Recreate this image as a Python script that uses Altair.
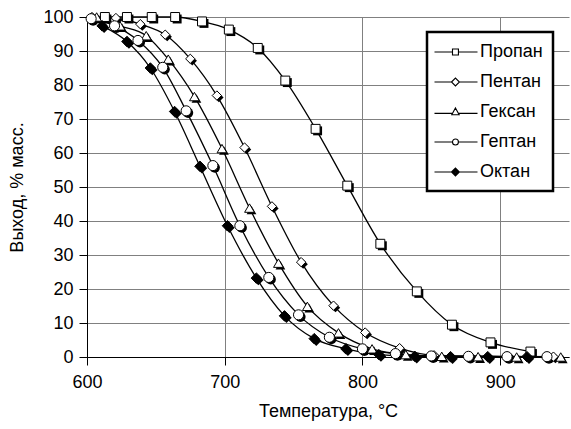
import altair as alt
import pandas as pd

series = ["Пропан", "Пентан", "Гексан", "Гептан", "Октан"]

propane_t = [613, 629, 647, 664, 683.5, 703, 724, 744, 766, 789, 813, 839.5, 865, 893, 922]
propane_y = [100, 100, 100, 100, 98.7, 96.3, 90.9, 81.3, 67.1, 50.4, 33.3, 19.3, 9.5, 4.3, 1.6]

pentane_t = [603.6, 621, 638.7, 656.8, 675, 694.3, 714.4, 734.3, 755.5, 779, 802, 827, 852, 878, 905, 938.7]
pentane_y = [100, 99.7, 97.9, 94.8, 87.7, 76.9, 61.6, 44.3, 27.9, 15.1, 7.2, 2.6, 0.5, 0.3, 0.2, 0.1]

hexane_t = [607, 624, 643, 659, 678, 698, 718, 739, 760, 782.6, 807, 831.5, 857.6, 884, 912, 944]
hexane_y = [100, 97.4, 94.5, 87.6, 76.6, 61.3, 43.8, 27.6, 14.9, 7.1, 2.4, 0.7, 0.2, 0.1, 0.0, 0.0]

heptane_t = [603, 620, 637, 655, 672, 691.4, 711, 732, 753.6, 776, 800, 824, 850, 877, 905, 934]
heptane_y = [99.5, 97.4, 93.1, 85.2, 72.4, 56.3, 38.6, 23.4, 12.4, 5.8, 2.4, 1.0, 0.3, 0.2, 0.1, 0.1]

octane_t = [611, 629, 646, 663.6, 682, 702, 723, 743.4, 765, 788, 812, 838, 864, 891, 919.5]
octane_y = [97.4, 92.8, 85.0, 72.2, 56.1, 38.6, 23.2, 12.1, 5.4, 2.4, 0.7, 0.2, 0.1, 0.1, 0.1]

x_ticks = [600, 700, 800, 900]
y_ticks = [0, 10, 20, 30, 40, 50, 60, 70, 80, 90, 100]
x_range = [600, 950]
y_range = [0, 100]

rows = []
for name, ts, ys in zip(series,
                        [propane_t, pentane_t, hexane_t, heptane_t, octane_t],
                        [propane_y, pentane_y, hexane_y, heptane_y, octane_y]):
    for t, y in zip(ts, ys):
        rows.append({"series": name, "t": t, "y": y})
df = pd.DataFrame(rows)

FONT = "Liberation Sans"
GRID = "#808080"

marker_shapes = ["square", "diamond", "triangle-up", "circle", "diamond"]
marker_sizes = [80, 110, 100, 85, 100]
marker_fills = ["white", "white", "white", "white", "black"]

# legend glyphs: line sample with a small marker, in symbol units
legend_paths = [
    "M-1.39,0H0.61M1.27,0H3.39M0.61,-0.33H1.27V0.33H0.61Z",
    "M-1.39,0H0.5M1.38,0H3.39M0.5,0L0.94,-0.44L1.38,0L0.94,0.44Z",
    "M-1.39,0.15H0.61M1.27,0.15H3.39M0.94,-0.45L1.35,0.3H0.53Z",
    "M-1.39,0H0.61M1.27,0H3.39M0.61,0A0.33,0.33 0 1,0 1.27,0A0.33,0.33 0 1,0 0.61,0Z",
    "M-1.39,0H0.5M1.38,0H3.39M0.5,0L0.94,-0.44L1.38,0L0.94,0.44Z"
    "M0.61,0L0.94,-0.33L1.27,0L0.94,0.33Z"
    "M0.72,0L0.94,-0.22L1.16,0L0.94,0.22Z"
    "M0.83,0L0.94,-0.11L1.05,0L0.94,0.11Z",
]

x_scale = alt.Scale(domain=x_range, nice=False, zero=False)
y_scale = alt.Scale(domain=y_range, nice=False)

x_enc = alt.X("t:Q", scale=x_scale,
              axis=alt.Axis(values=x_ticks, title="Температура, °C", format="d",
                            grid=True, gridColor=GRID, gridWidth=1, labelFlush=False,
                            labelPadding=8, titleBaseline="middle", titleY=54))
y_enc = alt.Y("y:Q", scale=y_scale,
              axis=alt.Axis(values=y_ticks, title="Выход, % масс.", labelOverlap=False,
                            grid=True, gridColor=GRID, gridWidth=1, labelFlush=False,
                            titleAngle=270, titleX=-70, titleY=170,
                            titleBaseline="middle", titleAlign="center"))

shape_scale = alt.Scale(domain=series, range=marker_shapes)
size_scale = alt.Scale(domain=series, range=marker_sizes)

lines = alt.Chart(df).mark_line(interpolate="monotone", color="black", strokeWidth=1.3).encode(
    x=x_enc, y=y_enc, detail="series:N", order="t:Q"
)

shadows = alt.Chart(df).mark_point(filled=True, color="black", xOffset=2, yOffset=2, opacity=1).encode(
    x=x_enc, y=y_enc,
    shape=alt.Shape("series:N", scale=shape_scale, legend=None),
    size=alt.Size("series:N", scale=size_scale, legend=None),
)

markers = alt.Chart(df).mark_point(filled=True, stroke="black", strokeWidth=1, opacity=1).encode(
    x=x_enc, y=y_enc,
    shape=alt.Shape("series:N", scale=shape_scale, legend=None),
    size=alt.Size("series:N", scale=size_scale, legend=None),
    fill=alt.Fill("series:N", scale=alt.Scale(domain=series, range=marker_fills), legend=None),
)

legend_layer = alt.Chart(df).transform_filter("false").mark_point(
    filled=False, color="black", strokeWidth=1.1, opacity=1
).encode(
    x=x_enc, y=y_enc,
    shape=alt.Shape("series:N",
                    scale=alt.Scale(domain=series, range=legend_paths),
                    legend=alt.Legend(title=None, orient="none", legendX=340, legendY=15,
                                      symbolSize=324, labelOffset=23,
                                      rowPadding=11, padding=10,
                                      symbolOpacity=1, symbolStrokeColor="black",
                                      symbolStrokeWidth=1.1,
                                      strokeColor="black", fillColor="white")),
)

chart = alt.layer(lines, shadows, markers, legend_layer).resolve_scale(
    shape="independent"
).properties(
    width=482, height=340,
    autosize=alt.AutoSizeParams(type="none"),
    padding={"left": 87, "top": 17, "right": 2, "bottom": 72},
).configure_view(strokeWidth=0).configure_axis(
    labelFont=FONT, titleFont=FONT, labelFontSize=18, titleFontSize=18,
    titleFontWeight="normal", labelColor="black", titleColor="black",
    domainColor="black", domainWidth=1, tickColor="black", tickSize=8, tickWidth=1,
    labelPadding=6, gridColor=GRID, gridOpacity=1,
).configure_legend(
    labelFont=FONT, labelFontSize=18, labelColor="black", strokeWidth=2.5,
)

chart.save("out.html", embed_options={"renderer": "svg", "actions": False})
